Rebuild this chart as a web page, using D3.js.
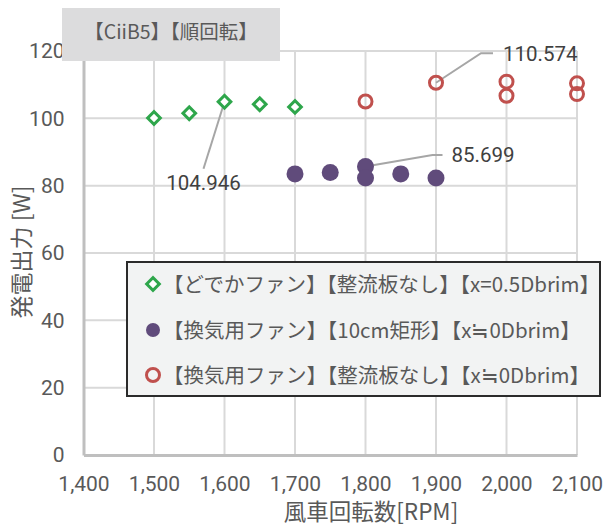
<!DOCTYPE html>
<html>
<head>
<meta charset="utf-8">
<script src="https://cdn.jsdelivr.net/npm/d3@7"></script>
<style>
  html, body { margin: 0; padding: 0; background: #ffffff; }
  svg { display: block; }
  text { font-family: "Noto Sans CJK JP", "Noto Sans", sans-serif; }
</style>
</head>
<body>
<svg id="chart" width="611" height="528"></svg>
<script>
// Rotational speed (RPM) vs generated power (W), three fan configurations
const seriesNames = [
  "【どでかファン】【整流板なし】【x=0.5Dbrim】",
  "【換気用ファン】【10cm矩形】【x≒0Dbrim】",
  "【換気用ファン】【整流板なし】【x≒0Dbrim】"
];
const dodekaRpm   = [1500, 1550, 1600, 1650, 1700];
const dodekaPower = [100.1, 101.5, 104.946, 104.2, 103.4];
const kankiRectRpm   = [1700, 1750, 1800, 1800, 1850, 1900];
const kankiRectPower = [83.5, 83.9, 85.699, 82.3, 83.5, 82.3];
const kankiOpenRpm   = [1800, 1900, 2000, 2000, 2100, 2100];
const kankiOpenPower = [105.0, 110.574, 110.9, 106.7, 110.4, 107.2];
const xTicks = [1400, 1500, 1600, 1700, 1800, 1900, 2000, 2100];
const yTicks = [0, 20, 40, 60, 80, 100, 120];
const chartTitle = "【CiiB5】【順回転】";
const xTitle = "風車回転数[RPM]";
const yTitle = "発電出力 [W]";
// Points carrying a value label
const callouts = [
  { series: 0, index: 2, text: "104.946" },
  { series: 1, index: 2, text: "85.699" },
  { series: 2, index: 1, text: "110.574" }
];

const colors = { green: "#2ea64b", purple: "#604b7b", red: "#c0504d" };
const svg = d3.select("#chart");

const x = d3.scaleLinear().domain([1400, 2100]).range([83.5, 577]);
const y = d3.scaleLinear().domain([0, 120]).range([455, 51]);

// gridlines
const grid = svg.append("g");
grid.selectAll("line.v").data(xTicks.slice(1)).join("line")
  .attr("x1", d => x(d)).attr("x2", d => x(d))
  .attr("y1", y(0)).attr("y2", y(120))
  .attr("stroke", "#d9d9d9").attr("stroke-width", 2);
grid.selectAll("line.h").data(yTicks.slice(1)).join("line")
  .attr("x1", x(1400)).attr("x2", x(2100))
  .attr("y1", d => y(d)).attr("y2", d => y(d))
  .attr("stroke", "#d9d9d9").attr("stroke-width", 2);

// axes
const xAxis = d3.axisBottom(x).tickValues(xTicks).tickFormat(d3.format(",")).tickSize(0).tickPadding(21);
const yAxis = d3.axisLeft(y).tickValues(yTicks).tickFormat(d3.format("d")).tickSize(0).tickPadding(19);
const gx = svg.append("g").attr("transform", `translate(0,${y(0)})`).call(xAxis);
const gy = svg.append("g").attr("transform", `translate(${x(1400)},0)`).call(yAxis);
[gx, gy].forEach(g => {
  g.select(".domain").attr("stroke", "#bfbfbf").attr("stroke-width", 3);
  g.selectAll("text").attr("fill", "#595959").attr("font-size", 21)
    .style("font-family", "Roboto, sans-serif");
});

// title box
const titleW = 218, titleH = 53;
svg.append("rect").attr("x", 62).attr("y", 8).attr("width", titleW).attr("height", titleH)
  .attr("fill", "#dcdcdd");
svg.append("text").attr("x", 62 + titleW / 2).attr("y", 39).attr("text-anchor", "middle")
  .attr("fill", "#595959").attr("font-size", 19.5).text(chartTitle);

// axis titles
svg.append("text").attr("x", 371).attr("y", 520).attr("text-anchor", "middle")
  .attr("fill", "#595959").attr("font-size", 22.5).text(xTitle);
svg.append("text").attr("transform", `translate(30,252) rotate(-90)`).attr("text-anchor", "middle")
  .attr("fill", "#595959").attr("font-size", 23).text(yTitle);

// marker drawing helpers
const diamond = d3.symbol().type(d3.symbolSquare).size(80);
function drawDiamond(g, cx, cy) {
  g.append("path").attr("d", diamond())
    .attr("transform", `translate(${cx},${cy}) rotate(45)`)
    .attr("fill", "#ffffff").attr("stroke", colors.green).attr("stroke-width", 3);
}
function drawDot(g, cx, cy) {
  g.append("circle").attr("cx", cx).attr("cy", cy).attr("r", 8.5).attr("fill", colors.purple);
}
function drawRing(g, cx, cy) {
  g.append("circle").attr("cx", cx).attr("cy", cy).attr("r", 6.5)
    .attr("fill", "none").attr("stroke", colors.red).attr("stroke-width", 3);
}

const series = [
  { rpm: dodekaRpm, power: dodekaPower, draw: drawDiamond },
  { rpm: kankiRectRpm, power: kankiRectPower, draw: drawDot },
  { rpm: kankiOpenRpm, power: kankiOpenPower, draw: drawRing }
];

// callout leader lines (beneath the markers)
const leaders = svg.append("g").attr("fill", "none").attr("stroke", "#a6a6a6").attr("stroke-width", 2);
const labelLayer = svg.append("g");
const offsets = [
  { line: [[-21, 67]], text: [-21, 88], anchor: "middle" },
  { line: [[67, -11.5], [77, -11.5]], text: [86, -4], anchor: "start" },
  { line: [[45, -29.5], [57, -29.5]], text: [67, -22], anchor: "start" }
];
callouts.forEach((c, i) => {
  const s = series[c.series];
  const px = x(s.rpm[c.index]), py = y(s.power[c.index]);
  const o = offsets[i];
  const pts = [[px, py]].concat(o.line.map(p => [px + p[0], py + p[1]]));
  leaders.append("path").attr("d", d3.line()(pts));
  labelLayer.append("text").attr("x", px + o.text[0]).attr("y", py + o.text[1])
    .attr("text-anchor", o.anchor).attr("fill", "#404040").attr("font-size", 20.5)
    .style("font-family", "Roboto, sans-serif").text(c.text);
});

// markers
const marks = svg.append("g");
series.forEach(s => s.rpm.forEach((r, i) => s.draw(marks, x(r), y(s.power[i]))));
labelLayer.raise();

// legend
const lg = svg.append("g");
lg.append("rect").attr("x", 127).attr("y", 262).attr("width", 473).attr("height", 134)
  .attr("fill", "#f2f3f3").attr("stroke", "#2b2b2b").attr("stroke-width", 2);
const legendY = [284, 330, 375];
const drawers = [drawDiamond, drawDot, drawRing];
seriesNames.forEach((name, i) => {
  const cy = legendY[i];
  if (i === 1) {
    lg.append("circle").attr("cx", 153).attr("cy", cy).attr("r", 7).attr("fill", colors.purple);
  } else {
    drawers[i](lg, 153, cy);
  }
  lg.append("text").attr("x", 163).attr("y", cy + 7.5).attr("fill", "#595959")
    .attr("font-size", 20.5).text(name);
});
</script>
</body>
</html>
